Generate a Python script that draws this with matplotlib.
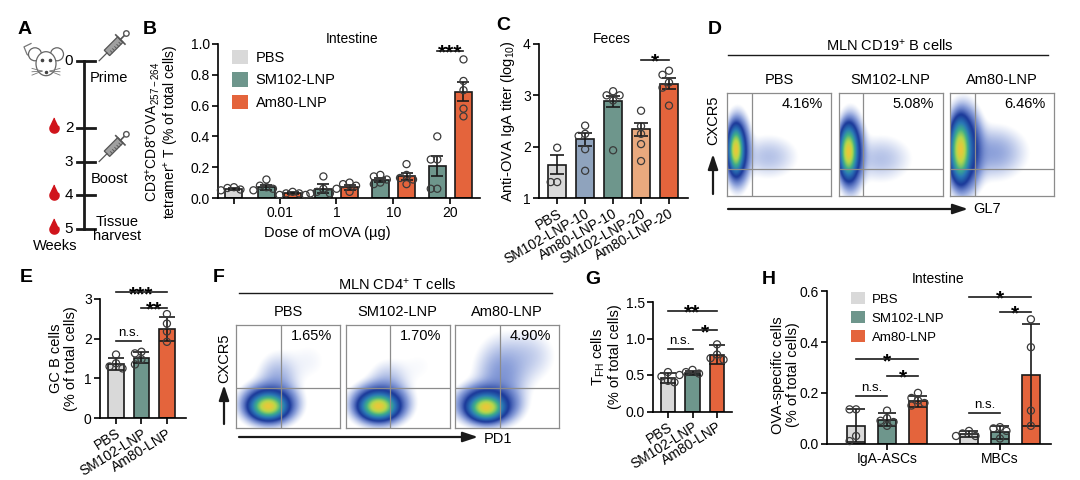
import numpy as np
import matplotlib
matplotlib.use('Agg')
import matplotlib.pyplot as plt
from matplotlib.patches import Patch, Ellipse, Polygon
from matplotlib.colors import LinearSegmentedColormap
from matplotlib.path import Path

plt.rcParams['font.family'] = ['Liberation Sans', 'DejaVu Sans']
plt.rcParams['mathtext.fontset'] = 'custom'
plt.rcParams['mathtext.rm'] = 'Liberation Sans'
plt.rcParams['mathtext.it'] = 'Liberation Sans:italic'
plt.rcParams['mathtext.bf'] = 'Liberation Sans:bold'
plt.rcParams['font.size'] = 10

# ---------------- data ----------------
# A: schedule (weeks)
weeks = [0, 2, 3, 4, 5]
bleed_weeks = [2, 4, 5]
shot_weeks = [0, 3]
shot_names = ['Prime', 'Boost']

# B: tetramer+ T cells, intestine
b_doses = ['0.01', '1', '10', '20']
b_pbs_mean, b_pbs_sem = 0.06, 0.008
b_pbs_pts = [0.07, 0.065, 0.055, 0.05]
b_sm_mean = [0.07, 0.06, 0.115, 0.205]
b_sm_sem = [0.015, 0.028, 0.012, 0.065]
b_am_mean = [0.03, 0.07, 0.14, 0.69]
b_am_sem = [0.006, 0.017, 0.022, 0.06]
b_sm_pts = [[0.12, 0.07, 0.06, 0.05, 0.08], [0.14, 0.06, 0.03, 0.04, 0.03],
            [0.15, 0.14, 0.12, 0.09, 0.10], [0.40, 0.25, 0.25, 0.06, 0.06]]
b_am_pts = [[0.04, 0.03, 0.02, 0.02, 0.03], [0.10, 0.09, 0.08, 0.04, 0.06],
            [0.22, 0.15, 0.13, 0.09, 0.12], [0.90, 0.76, 0.70, 0.58, 0.53]]

# C: fecal anti-OVA IgA
c_groups = ['PBS', 'SM102-LNP-10', 'Am80-LNP-10', 'SM102-LNP-20', 'Am80-LNP-20']
c_mean = [1.65, 2.14, 2.88, 2.34, 3.23]
c_sem = [0.18, 0.12, 0.10, 0.13, 0.10]
c_pts = [[1.98, 1.31, 1.31], [2.41, 2.25, 2.21, 1.95, 1.53],
         [3.08, 3.00, 3.00, 2.90, 1.93], [2.70, 2.40, 2.25, 2.05, 1.72],
         [3.48, 3.40, 3.25, 3.15, 2.80]]

# D / F: flow plots
flow_groups = ['PBS', 'SM102-LNP', 'Am80-LNP']
d_pct = ['4.16%', '5.08%', '6.46%']
f_pct = ['1.65%', '1.70%', '4.90%']
# populations: (x, y, sx, sy, weight) in plot fractions
d_pops = [
    [(0.085, 0.45, 0.03, 0.09, 1.0), (0.10, 0.44, 0.055, 0.15, 0.07), (0.40, 0.38, 0.16, 0.12, 0.0035)],
    [(0.09, 0.43, 0.035, 0.10, 1.0), (0.11, 0.42, 0.06, 0.16, 0.07), (0.40, 0.36, 0.17, 0.13, 0.0035)],
    [(0.10, 0.45, 0.04, 0.12, 1.0), (0.13, 0.45, 0.08, 0.18, 0.08), (0.42, 0.42, 0.17, 0.14, 0.006)],
]
f_pops = [
    [(0.31, 0.21, 0.07, 0.05, 1.0), (0.32, 0.23, 0.12, 0.09, 0.07), (0.40, 0.45, 0.11, 0.15, 0.005), (0.70, 0.65, 0.15, 0.15, 0.001)],
    [(0.31, 0.21, 0.07, 0.05, 1.0), (0.32, 0.23, 0.12, 0.09, 0.07), (0.40, 0.42, 0.11, 0.13, 0.004), (0.70, 0.60, 0.15, 0.15, 0.0008)],
    [(0.30, 0.20, 0.07, 0.05, 1.0), (0.31, 0.23, 0.13, 0.09, 0.07), (0.45, 0.50, 0.14, 0.20, 0.007), (0.72, 0.70, 0.15, 0.15, 0.0025)],
]

# E: GC B cells
e_groups = ['PBS', 'SM102-LNP', 'Am80-LNP']
e_mean = [1.37, 1.52, 2.25]
e_sd = [0.15, 0.14, 0.30]
e_pts = [[1.60, 1.38, 1.30, 1.25], [1.67, 1.63, 1.48, 1.35], [2.62, 2.38, 2.18, 1.92]]

# G: TFH cells
g_mean = [0.46, 0.53, 0.78]
g_sd = [0.07, 0.03, 0.13]
g_pts = [[0.54, 0.48, 0.42, 0.40], [0.57, 0.54, 0.52, 0.50], [0.92, 0.78, 0.73, 0.71]]

# H: OVA-specific cells, intestine
h_cells = ['IgA-ASCs', 'MBCs']
h_pbs_mean, h_pbs_sd = [0.07, 0.037], [0.065, 0.012]
h_sm_mean, h_sm_sd = [0.095, 0.045], [0.025, 0.025]
h_am_mean, h_am_sd = [0.167, 0.27], [0.022, 0.20]
h_pbs_pts = [[0.135, 0.135, 0.03, 0.01], [0.05, 0.04, 0.03, 0.03]]
h_sm_pts = [[0.13, 0.10, 0.09, 0.085, 0.07], [0.065, 0.06, 0.05, 0.02]]
h_am_pts = [[0.20, 0.18, 0.17, 0.16, 0.15], [0.49, 0.38, 0.13, 0.07]]

# ---------------- style ----------------
PBS_C = '#d9d9d9'
SM_C = '#6e968c'
AM_C = '#e4643c'
SM10_C = '#8fa3bd'
SM20_C = '#e9a97e'
EC = '#1a1a1a'

fig = plt.figure(figsize=(10.8, 4.8), dpi=100)
W, H = 1080, 480


def box(x0, y0, x1, y1):
    # pixel box (top-left origin) -> figure fraction rect
    return [x0 / W, 1 - y1 / H, (x1 - x0) / W, (y1 - y0) / H]


# overlay in pixel units for labels and decorations
ov = fig.add_axes([0, 0, 1, 1])
ov.set_xlim(0, W)
ov.set_ylim(H, 0)
ov.axis('off')


def style(ax):
    ax.spines[['top', 'right']].set_visible(False)
    ax.spines[['left', 'bottom']].set_linewidth(1.2)
    ax.tick_params(width=1.2, length=4, labelsize=10, pad=2)


def px_per_unit(ax):
    p0 = ax.transData.transform((0, 0))
    p1 = ax.transData.transform((1, 1))
    return abs(p1[0] - p0[0]), abs(p1[1] - p0[1])


def swarm_x(vals, center, step, tol):
    vals = np.asarray(vals, float)
    xs = np.zeros(len(vals))
    placed = []
    for i in np.argsort(-vals, kind='stable'):
        for k in [0, -1, 1, -2, 2]:
            x = center + k * step
            if all(abs(vals[i] - v) > tol or abs(x - px) > step * 0.5 for px, v in placed):
                break
        xs[i] = x
        placed.append((x, vals[i]))
    return xs


def dots(ax, x, vals):
    sx, sy = px_per_unit(ax)
    xs = swarm_x(vals, x, 6.5 / sx, 6.5 / sy)
    ax.scatter(xs, vals, s=26, facecolors='none', edgecolors='#3a3a3a',
               linewidths=0.9, zorder=4, clip_on=False)


def bars(ax, xs, means, errs, pts, colors, width, cap, base=0):
    means = np.asarray(means, float)
    ax.bar(xs, means - base, width, bottom=base, color=colors, edgecolor=EC,
           linewidth=1.2, zorder=2)
    ax.errorbar(xs, means, yerr=errs, fmt='none', ecolor=EC, elinewidth=1.2,
                capsize=cap, capthick=1.2, zorder=3)
    for x, p in zip(np.atleast_1d(xs), pts):
        dots(ax, x, p)


def sig(ax, x1, x2, y, label):
    ax.plot([x1, x2], [y, y], color=EC, lw=1.2, clip_on=False, zorder=5)
    if label == 'n.s.':
        ax.annotate(label, ((x1 + x2) / 2, y), xytext=(0, 1.5), textcoords='offset points',
                    ha='center', va='bottom', fontsize=9.5, annotation_clip=False)
    else:
        ax.annotate(label, ((x1 + x2) / 2, y), xytext=(0, -5.5), textcoords='offset points',
                    ha='center', va='baseline', fontsize=15, fontweight='bold',
                    annotation_clip=False)


# ---------------- A: schedule ----------------
PXW = 33.6  # pixels per week on the timeline
axA = fig.add_axes(box(0, 20, 160, 260))
axA.set_xlim(0, 160)
axA.set_ylim(5 + 31 / PXW, -41 / PXW)
axA.axis('off')
axA.plot([84, 84], [weeks[0], weeks[-1]], color=EC, lw=2)
for w in weeks:
    axA.plot([77, 95], [w, w], color=EC, lw=2)
    axA.text(69, w, str(w), ha='center', va='center', fontsize=11)

arc = np.radians(np.linspace(35, -215, 40))
drop = Path(np.vstack([np.column_stack([np.cos(arc), np.sin(arc)]), [[0, 2.3]]]))
axA.scatter([54] * len(bleed_weeks), bleed_weeks, marker=drop, s=230, color='#d0141b', zorder=3)


def syringe(ax, cx, cw):
    u = np.array([np.cos(np.radians(45)), np.sin(np.radians(45))])
    v = np.array([-u[1], u[0]])

    def pt(p):
        return (cx + p[0], cw - p[1] / PXW)
    barrel = [pt(a * u + s * 3.8 * v) for a, s in [(-10, -1), (9, -1), (9, 1), (-10, 1)]]
    ax.add_patch(Polygon(barrel, closed=True, fc='#a0a0a0', ec='#555555', lw=0.9, zorder=3))
    for a in [-6, -3, 0, 3, 6]:
        p0, p1 = pt(a * u - 3.8 * v), pt(a * u - 1 * v)
        ax.plot([p0[0], p1[0]], [p0[1], p1[1]], color='#555555', lw=0.6, zorder=4)
    fl = [pt(9 * u - 6.5 * v), pt(9 * u + 6.5 * v)]
    ax.plot(*zip(*fl), color='#555555', lw=1.2, zorder=4)
    rod = [pt(9 * u), pt(15 * u)]
    ax.plot(*zip(*rod), color='#555555', lw=1.2, zorder=4)
    c = pt(17.5 * u)
    ax.add_patch(Ellipse(c, 5.5, 5.5 / PXW, fc='white', ec='#555555', lw=1.0, zorder=4))
    nd = [pt(-10 * u), pt(-21 * u)]
    ax.plot(*zip(*nd), color='#555555', lw=0.9, zorder=4)


for w, name in zip(shot_weeks, shot_names):
    syringe(axA, 114, w - 0.45)
    axA.text(109, w + 0.5, name, ha='center', va='center', fontsize=10.5)
axA.text(117, weeks[-1], 'Tissue\nharvest', ha='center', va='center', fontsize=10.5,
         linespacing=0.95)
axA.text(55, weeks[-1] + 0.5, 'Weeks', ha='center', va='center', fontsize=10.5)

# mouse icon
mc = (46, -0.02)
axA.plot([33, 27, 24, 31], [-0.05, -0.2, -0.42, -0.52], color='#777777', lw=0.9)
for ex in [-11, 11]:
    axA.add_patch(Ellipse((mc[0] + ex, mc[1] - 0.18), 13, 13 / PXW, fc='white',
                          ec='#666666', lw=0.9, zorder=2))
axA.add_patch(Ellipse((mc[0], mc[1] + 0.1), 20, 24 / PXW, fc='white', ec='#666666',
                      lw=0.9, zorder=3))
for ex in [-4, 4]:
    axA.plot(mc[0] + ex, mc[1], 'o', ms=1.6, color='#444444', zorder=4)
axA.plot(mc[0], mc[1] + 0.36, 'o', ms=1.5, color='#444444', zorder=4)
for sgn in [-1, 1]:
    for dy in [0.24, 0.34, 0.44]:
        axA.plot([mc[0] + sgn * 4, mc[0] + sgn * 14], [mc[1] + 0.32, mc[1] + dy],
                 color='#777777', lw=0.6, zorder=4)

# ---------------- B ----------------
axB = fig.add_axes(box(218, 44, 480, 198))
style(axB)
axB.set_xlim(-0.28, 4.32)
axB.set_ylim(0, 1.0)
grp = 0.8 + np.arange(len(b_doses))
off, bw = 0.23, 0.3
bars(axB, [0], [b_pbs_mean], [b_pbs_sem], [b_pbs_pts], PBS_C, bw, 4.5)
bars(axB, grp - off, b_sm_mean, b_sm_sem, b_sm_pts, SM_C, bw, 4.5)
bars(axB, grp + off, b_am_mean, b_am_sem, b_am_pts, AM_C, bw, 4.5)
axB.set_xticks([0] + list(grp))
axB.set_xticklabels([''] + b_doses)
axB.set_yticks(np.arange(0, 1.01, 0.2))
axB.set_yticklabels([f'{v:.1f}' for v in np.arange(0, 1.01, 0.2)])
axB.set_xlabel('Dose of mOVA (µg)', fontsize=10.5)
axB.xaxis.set_label_coords(0.416, -0.185)
axB.set_ylabel('CD3$^{+}$CD8$^{+}$OVA$_{\\mathregular{257-264}}$\ntetramer$^{+}$ T (% of total cells)',
               fontsize=10, linespacing=1.0)
axB.yaxis.set_label_coords(-0.14, 0.43)
axB.text(0.51, 1.03, 'Intestine', transform=axB.transAxes, ha='center', va='center', fontsize=10)
sig(axB, grp[-1] - off, grp[-1] + off, 0.955, '***')
axB.legend(handles=[Patch(fc=PBS_C, ec='none'), Patch(fc=SM_C, ec='none'), Patch(fc=AM_C, ec='none')],
           labels=['PBS', 'SM102-LNP', 'Am80-LNP'], loc='upper left', bbox_to_anchor=(0.03, 1.0),
           frameon=False, fontsize=10.5, handlelength=1.15, handleheight=1.15,
           labelspacing=0.5, handletextpad=0.5, borderaxespad=0)

# ---------------- C ----------------
axC = fig.add_axes(box(539, 44, 688, 198))
style(axC)
xc = np.arange(len(c_groups))
axC.set_xlim(-0.65, 4.68)
axC.set_ylim(1, 4)
bars(axC, xc, c_mean, c_sem, c_pts, [PBS_C, SM10_C, SM_C, SM20_C, AM_C], 0.65, 5, base=1)
axC.set_xticks(xc)
axC.set_xticklabels(c_groups, rotation=30, ha='right', rotation_mode='anchor')
axC.set_yticks([1, 2, 3, 4])
axC.set_ylabel('Anti-OVA IgA titer (log$_{\\mathregular{10}}$)', fontsize=10.5)
axC.yaxis.set_label_coords(-0.15, 0.5)
axC.text(0.49, 1.03, 'Feces', transform=axC.transAxes, ha='center', va='center', fontsize=10)
sig(axC, 3, 4, 3.69, '*')

# ---------------- flow plots ----------------
flow_cm = LinearSegmentedColormap.from_list('flow', [
    (0.0, '#a9bbe6'), (0.3, '#4062c2'), (0.52, '#1c3a9a'), (0.7, '#2a78b6'),
    (0.83, '#3fae8a'), (0.94, '#b7d84a'), (1.0, '#e8c83a')])


def flow(ax, pops, gx, gy, title, pct):
    g = np.linspace(0, 1, 240)
    X, Y = np.meshgrid(g, g)
    d = np.zeros_like(X)
    for cx, cy, sx, sy, w in pops:
        d += w * np.exp(-((X - cx) ** 2 / (2 * sx ** 2) + (Y - cy) ** 2 / (2 * sy ** 2)))
    d /= d.max()
    v = np.log10(np.clip(d, 1e-9, 1))
    rgba = flow_cm(np.clip((v + 3.2) / 3.2, 0, 1))
    rgba[..., 3] = np.clip((v + 3.2) / 1.6, 0, 1)
    ax.imshow(rgba, extent=(0, 1, 0, 1), origin='lower', aspect='auto', interpolation='bilinear')
    ax.axvline(gx, color='#8c8c8c', lw=0.9)
    ax.axhline(gy, color='#8c8c8c', lw=0.9)
    ax.set_xlim(0, 1)
    ax.set_ylim(0, 1)
    ax.set_xticks([])
    ax.set_yticks([])
    for s in ax.spines.values():
        s.set_color('#8c8c8c')
        s.set_linewidth(0.9)
    ax.text(0.5, 1.06, title, transform=ax.transAxes, ha='center', va='bottom', fontsize=10.5)
    ax.text(0.92, 0.89, pct, transform=ax.transAxes, ha='right', va='center', fontsize=10.5)


def arrow(x0, y0, x1, y1):
    ov.annotate('', xy=(x1, y1), xytext=(x0, y0),
                arrowprops=dict(arrowstyle='-|>,head_length=0.9,head_width=0.3', lw=1.6,
                                color=EC, shrinkA=0, shrinkB=0))


# D
for i, (name, pct, pops) in enumerate(zip(flow_groups, d_pct, d_pops)):
    x0 = 727 + i * 111.5
    flow(fig.add_axes(box(x0, 93, x0 + 104, 196)), pops, 0.24, 0.26, name, pct)
ov.text(890, 46, 'MLN CD19$^{+}$ B cells', ha='center', va='center', fontsize=10.5)
ov.plot([728, 1048], [55, 55], color=EC, lw=1.0)
arrow(713, 194, 713, 154)
ov.text(713, 120, 'CXCR5', rotation=90, ha='center', va='center', fontsize=10.5)
arrow(728, 209, 968, 209)
ov.text(973, 209, 'GL7', ha='left', va='center', fontsize=10.5)

# F
for i, (name, pct, pops) in enumerate(zip(flow_groups, f_pct, f_pops)):
    x0 = 236 + i * 109.5
    flow(fig.add_axes(box(x0, 325, x0 + 104, 428)), pops, 0.43, 0.39, name, pct)
ov.text(397, 285, 'MLN CD4$^{+}$ T cells', ha='center', va='center', fontsize=10.5)
ov.plot([239, 552], [293, 293], color=EC, lw=1.0)
arrow(224, 424, 224, 385)
ov.text(224, 358, 'CXCR5', rotation=90, ha='center', va='center', fontsize=10.5)
arrow(239, 437, 478, 437)
ov.text(484, 439, 'PD1', ha='left', va='center', fontsize=10.5)

# ---------------- E ----------------
axE = fig.add_axes(box(100, 299, 186, 418))
style(axE)
xe = np.arange(len(e_groups))
axE.set_xlim(-0.63, 2.75)
axE.set_ylim(0, 3)
bars(axE, xe, e_mean, e_sd, e_pts, [PBS_C, SM_C, AM_C], 0.6, 6)
axE.set_xticks(xe)
axE.set_xticklabels(e_groups, rotation=32, ha='right', rotation_mode='anchor')
axE.set_yticks([0, 1, 2, 3])
axE.set_ylabel('GC B cells\n(% of total cells)', fontsize=10.5, linespacing=1.1)
axE.yaxis.set_label_coords(-0.25, 0.5)
sig(axE, 0, 2, 3.17, '***')
sig(axE, 1, 2, 2.78, '**')
sig(axE, 0, 1, 1.94, 'n.s.')

# ---------------- G ----------------
axG = fig.add_axes(box(653, 302, 732, 411.5))
style(axG)
axG.set_xlim(-0.61, 2.61)
axG.set_ylim(0, 1.5)
bars(axG, xe, g_mean, g_sd, g_pts, [PBS_C, SM_C, AM_C], 0.6, 6)
axG.set_xticks(xe)
axG.set_xticklabels(e_groups, rotation=32, ha='right', rotation_mode='anchor')
axG.set_yticks([0, 0.5, 1.0, 1.5])
axG.set_yticklabels(['0.0', '0.5', '1.0', '1.5'])
axG.set_ylabel('T$_{\\mathregular{FH}}$ cells\n(% of total cells)', fontsize=10.5, linespacing=1.1)
axG.yaxis.set_label_coords(-0.39, 0.5)
sig(axG, 0, 2, 1.38, '**')
sig(axG, 1, 2, 1.11, '*')
sig(axG, 0, 1, 0.855, 'n.s.')

# ---------------- H ----------------
axH = fig.add_axes(box(827, 291.4, 1051, 443.6))
style(axH)
xh = np.array([0, 3.65])
axH.set_xlim(-1.94, 5.3)
axH.set_ylim(0, 0.6)
bars(axH, xh - 1, h_pbs_mean, h_pbs_sd, h_pbs_pts, PBS_C, 0.58, 6.5)
bars(axH, xh, h_sm_mean, h_sm_sd, h_sm_pts, SM_C, 0.58, 6.5)
bars(axH, xh + 1, h_am_mean, h_am_sd, h_am_pts, AM_C, 0.58, 6.5)
axH.set_xticks(xh)
axH.set_xticklabels(h_cells)
axH.set_yticks([0, 0.2, 0.4, 0.6])
axH.set_yticklabels(['0.0', '0.2', '0.4', '0.6'])
axH.set_ylabel('OVA-specific cells\n(% of total cells)', fontsize=10.5, linespacing=1.1)
axH.yaxis.set_label_coords(-0.12, 0.45)
axH.text(0.496, 1.08, 'Intestine', transform=axH.transAxes, ha='center', va='center', fontsize=10)
sig(axH, -1, 0, 0.186, 'n.s.')
sig(axH, 0, 1, 0.266, '*')
sig(axH, -1, 1, 0.332, '*')
sig(axH, 2.65, 3.65, 0.119, 'n.s.')
sig(axH, 3.65, 4.65, 0.519, '*')
sig(axH, 2.65, 4.65, 0.578, '*')
axH.legend(handles=[Patch(fc=PBS_C, ec='none'), Patch(fc=SM_C, ec='none'), Patch(fc=AM_C, ec='none')],
           labels=['PBS', 'SM102-LNP', 'Am80-LNP'], loc='upper left', bbox_to_anchor=(0.085, 1.03),
           frameon=False, fontsize=9.5, handlelength=1.05, handleheight=1.05,
           labelspacing=0.4, handletextpad=0.5, borderaxespad=0)

# ---------------- panel letters ----------------
for letter, (x, y) in zip('ABCDEFGH', [(25, 30), (150, 29), (503, 25), (715, 29),
                                       (26, 278), (219, 277), (593, 279), (769, 279)]):
    ov.text(x, y, letter, ha='center', va='center', fontsize=14, fontweight='bold')

fig.savefig('out.png', dpi=100)
